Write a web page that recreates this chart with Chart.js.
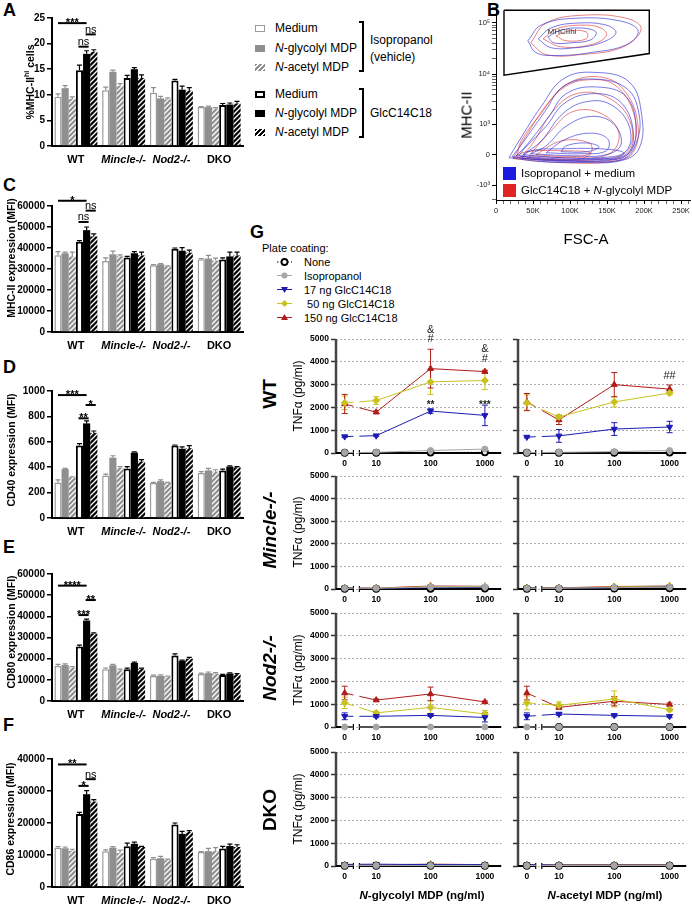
<!DOCTYPE html>
<html>
<head>
<meta charset="utf-8">
<script src="https://cdn.jsdelivr.net/npm/chart.js"></script>
<style>
  body { margin: 0; width: 692px; height: 904px; position: relative; overflow: hidden; background: #fff;
         font-family: 'Liberation Sans', Arial, sans-serif; color: #000; }
  canvas { position: absolute; }
  .t { position: absolute; white-space: nowrap; line-height: 1; }
  .c { transform: translate(-50%, -50%); }
  .lm { transform: translateY(-50%); }
  .r { transform: translate(-50%, -50%) rotate(-90deg); }
  .L { font-size: 18px; font-weight: bold; }
  .yt { font-size: 10.5px; font-weight: bold; }
  .lg { font-size: 12px; }
  .sw { position: absolute; left: 255px; width: 10px; height: 7px; box-sizing: border-box; }
  .br { position: absolute; left: 359px; width: 5px; border: 2px solid #000; border-left: none; box-sizing: border-box; }
  .row { font-size: 19px; font-weight: bold; }
  .tnf { font-size: 12px; }
  .gl { font-size: 11px; }
</style>
</head>
<body>

<!-- panel letters -->
<div class="t L" style="left:3px;top:1px">A</div>
<div class="t L" style="left:487px;top:1px">B</div>
<div class="t L" style="left:3px;top:176px">C</div>
<div class="t L" style="left:3px;top:358px">D</div>
<div class="t L" style="left:3px;top:538px">E</div>
<div class="t L" style="left:3px;top:716px">F</div>
<div class="t L" style="left:250px;top:223px">G</div>

<!-- bar panels -->
<canvas id="cA" width="245" height="163" style="left:0;top:3px"></canvas>
<canvas id="cC" width="245" height="161" style="left:0;top:191px"></canvas>
<canvas id="cD" width="245" height="162" style="left:0;top:376px"></canvas>
<canvas id="cE" width="245" height="162" style="left:0;top:559px"></canvas>
<canvas id="cF" width="245" height="163" style="left:0;top:744px"></canvas>

<div class="t yt r" style="left:29px;top:82px">%MHC-II<sup style="font-size:7px">hi</sup> cells</div>
<div class="t yt r" style="left:11px;top:258px">MHC-II expression (MFI)</div>
<div class="t yt r" style="left:11px;top:450px">CD40 expression (MFI)</div>
<div class="t yt r" style="left:11px;top:632px">CD80 expression (MFI)</div>
<div class="t yt r" style="left:10px;top:819px">CD86 expression (MFI)</div>

<!-- bar legend -->
<div class="sw" style="top:24.5px;border:1.5px solid #9b9b9b;background:#fff"></div>
<div class="sw" style="top:44.5px;background:#8f8f8f"></div>
<div class="sw" style="top:63.5px;background:repeating-linear-gradient(135deg,#8f8f8f 0 2px,#fff 2px 3.5px)"></div>
<div class="sw" style="top:90.5px;border:2px solid #000;background:#fff"></div>
<div class="sw" style="top:109.5px;background:#000"></div>
<div class="sw" style="top:128.5px;background:repeating-linear-gradient(135deg,#000 0 2px,#fff 2px 3.5px)"></div>
<div class="t lg lm" style="left:275px;top:28px">Medium</div>
<div class="t lg lm" style="left:275px;top:48px"><i>N</i>-glycolyl MDP</div>
<div class="t lg lm" style="left:275px;top:67px"><i>N</i>-acetyl MDP</div>
<div class="t lg lm" style="left:275px;top:94px">Medium</div>
<div class="t lg lm" style="left:275px;top:113px"><i>N</i>-glycolyl MDP</div>
<div class="t lg lm" style="left:275px;top:132px"><i>N</i>-acetyl MDP</div>
<div class="br" style="top:21px;height:51px"></div>
<div class="br" style="top:88px;height:50px"></div>
<div class="t lg lm" style="left:370px;top:40px">Isopropanol</div>
<div class="t lg lm" style="left:370px;top:57px">(vehicle)</div>
<div class="t lg lm" style="left:370px;top:113px">GlcC14C18</div>

<!-- panel B -->
<canvas id="cB" width="242" height="250" style="left:450px;top:0"></canvas>
<div class="t r" style="left:466px;top:115px;font-size:15px">MHC-II</div>
<div class="t c" style="left:586px;top:238px;font-size:15px">FSC-A</div>
<div class="t c" style="left:562px;top:32px;font-size:8px;color:#333">MHCIIhi</div>
<div style="position:absolute;left:503px;top:167px;width:13px;height:13px;background:#1c1ce0"></div>
<div style="position:absolute;left:503px;top:184px;width:13px;height:13px;background:#e02424"></div>
<div class="t lm" style="left:521px;top:173.5px;font-size:11.5px">Isopropanol + medium</div>
<div class="t lm" style="left:521px;top:190.5px;font-size:11.5px">GlcC14C18 + <i>N</i>-glycolyl MDP</div>

<!-- panel G legend -->
<div class="t gl lm" style="left:262px;top:248px">Plate coating:</div>
<svg style="position:absolute;left:270px;top:255px" width="30" height="70">
  <line x1="7" y1="7" x2="22" y2="7" stroke="#000" stroke-width="1" stroke-dasharray="1.5 2"/>
  <circle cx="14.5" cy="7" r="3" fill="#fff" stroke="#000" stroke-width="1.8"/>
  <line x1="7" y1="20.5" x2="22" y2="20.5" stroke="#a6a6a6" stroke-width="1"/>
  <circle cx="14.5" cy="20.5" r="3" fill="#a6a6a6"/>
  <line x1="7" y1="34.5" x2="22" y2="34.5" stroke="#1c1cb4" stroke-width="1"/>
  <polygon points="11,32 18,32 14.5,38" fill="#1c1cb4"/>
  <line x1="7" y1="48.5" x2="22" y2="48.5" stroke="#c9c21e" stroke-width="1"/>
  <polygon points="14.5,45 18,48.5 14.5,52 11,48.5" fill="#c9c21e"/>
  <line x1="7" y1="62.5" x2="22" y2="62.5" stroke="#b01c1c" stroke-width="1"/>
  <polygon points="11,65 18,65 14.5,59" fill="#b01c1c"/>
</svg>
<div class="t gl lm" style="left:304px;top:262px">None</div>
<div class="t gl lm" style="left:304px;top:275.5px">Isopropanol</div>
<div class="t gl lm" style="left:304px;top:289.5px">17 ng GlcC14C18</div>
<div class="t gl lm" style="left:304px;top:303.5px">&nbsp;50 ng GlcC14C18</div>
<div class="t gl lm" style="left:304px;top:317.5px">150 ng GlcC14C18</div>

<!-- panel G charts -->
<canvas id="g1a" width="211" height="154" style="left:296px;top:317px"></canvas>
<canvas id="g1b" width="184" height="154" style="left:508px;top:317px"></canvas>
<canvas id="g2a" width="211" height="153" style="left:296px;top:454px"></canvas>
<canvas id="g2b" width="184" height="153" style="left:508px;top:454px"></canvas>
<canvas id="g3a" width="211" height="154" style="left:296px;top:591px"></canvas>
<canvas id="g3b" width="184" height="154" style="left:508px;top:591px"></canvas>
<canvas id="g4a" width="211" height="154" style="left:296px;top:730px"></canvas>
<canvas id="g4b" width="184" height="154" style="left:508px;top:730px"></canvas>

<div class="t row r" style="left:269px;top:394px">WT</div>
<div class="t row r" style="left:269px;top:530px"><i>Mincle-/-</i></div>
<div class="t row r" style="left:269px;top:668px"><i>Nod2-/-</i></div>
<div class="t row r" style="left:269px;top:810px">DKO</div>
<div class="t tnf r" style="left:298px;top:396px">TNFα (pg/ml)</div>
<div class="t tnf r" style="left:298px;top:532px">TNFα (pg/ml)</div>
<div class="t tnf r" style="left:298px;top:670px">TNFα (pg/ml)</div>
<div class="t tnf r" style="left:298px;top:809px">TNFα (pg/ml)</div>
<div class="t c" style="left:422px;top:896px;font-size:11.5px;font-weight:bold"><i>N</i>-glycolyl MDP (ng/ml)</div>
<div class="t c" style="left:605px;top:896px;font-size:11.5px;font-weight:bold"><i>N</i>-acetyl MDP (ng/ml)</div>

<script>
var FONT = "'Liberation Sans', Arial, sans-serif";
Chart.defaults.font.family = FONT;
Chart.defaults.color = '#000';

// ---------- data: bar panels A, C-F ----------
var groups = ['WT', 'Mincle-/-', 'Nod2-/-', 'DKO'];
var treatments = ['Medium', 'N-glycolyl MDP', 'N-acetyl MDP', 'Medium', 'N-glycolyl MDP', 'N-acetyl MDP'];

// one row per genotype, columns in legend order (isopropanol x3, GlcC14C18 x3)
var mhcPct = [[9.6, 11.3, 9.2, 14.8, 18.0, 18.4], [10.9, 14.5, 11.7, 13.3, 15.0, 13.3], [10.4, 9.3, 9.1, 12.8, 11.0, 10.8], [7.6, 7.6, 7.3, 8.0, 8.1, 8.3]];
var mhcPctErr = [[0.6, 0.5, 0.4, 1.0, 0.6, 0.4], [0.6, 0.3, 0.5, 0.5, 0.3, 0.6], [1.0, 0.4, 0.3, 0.2, 0.7, 0.6], [0.1, 0.2, 0.2, 0.3, 0.3, 0.4]];
var mhcMfi = [[36500, 37500, 36000, 43000, 48500, 45500], [33800, 37000, 36000, 35500, 37500, 36500], [31800, 32300, 31200, 39700, 38700, 37800], [34700, 35000, 34000, 34500, 36000, 36500]];
var mhcMfiErr = [[1800, 500, 2000, 500, 1500, 1200], [1500, 1500, 700, 500, 800, 1500], [300, 300, 300, 300, 1500, 1200], [300, 1500, 1200, 800, 2000, 1500]];
var cd40 = [[280, 385, 320, 570, 745, 670], [335, 475, 395, 390, 515, 445], [275, 290, 275, 570, 545, 550], [355, 375, 365, 375, 405, 400]];
var cd40Err = [[20, 5, 5, 15, 20, 15], [10, 15, 10, 15, 5, 15], [5, 10, 5, 5, 15, 20], [10, 15, 15, 10, 5, 5]];
var cd80 = [[16500, 17000, 15800, 25700, 38000, 31800], [15000, 16900, 14500, 15000, 18000, 15200], [11800, 12000, 11500, 21500, 19000, 20000], [12800, 13200, 12900, 12300, 13000, 12700]];
var cd80Err = [[800, 500, 500, 700, 700, 400], [600, 400, 600, 500, 400, 300], [400, 400, 300, 800, 300, 600], [400, 500, 500, 300, 300, 300]];
var cd86 = [[12300, 12100, 11300, 22800, 29000, 26700], [11200, 12300, 10600, 12700, 13500, 12500], [8800, 9000, 8400, 19500, 16600, 17200], [10900, 11200, 11300, 12000, 12800, 12500]];
var cd86Err = [[300, 400, 500, 500, 1100, 600], [400, 300, 900, 1000, 500, 200], [400, 600, 300, 500, 800, 400], [200, 900, 1000, 700, 600, 700]];

// significance marks on the WT group: [from bar, to bar, height, label]
var sigA = [[0, 4, 24, '***'], [3, 4, 19.4, 'ns'], [4, 5, 21.8, 'ns']];
var sigC = [[0, 4, 62500, '*'], [3, 4, 52400, 'ns'], [4, 5, 57800, 'ns']];
var sigD = [[0, 4, 968, '***'], [3, 4, 785, '**'], [4, 5, 890, '*']];
var sigE = [[0, 4, 54500, '****'], [3, 4, 40600, '***'], [4, 5, 47700, '**']];
var sigF = [[0, 4, 38300, '**'], [3, 4, 31600, '*'], [4, 5, 33700, 'ns']];

// ---------- data: panel B (FSC-A in K, MHC-II in raw units) ----------
var bGate = [[10.8, 174000], [207, 174000], [207, 25200], [10.8, 9570]];
var bBlueRings = [
  [[17.6, -72], [61, -172], [115, -196], [169, -146], [193, 146], [197, 1470], [180, 7060], [131, 10900], [90.5, 8040], [61, 2330], [31, 359]],
  [[21.6, -48], [67.6, -146], [122, -172], [172.5, -97], [190.5, 359], [193, 1690], [177, 5210], [134, 8040], [92, 5940], [66, 1850], [35, 275]],
  [[27, -24], [74, -121], [128, -121], [176, -24], [189, 695], [176, 3630], [135, 5660], [94.6, 4160], [71.6, 1470], [40.5, 223]],
  [[31, -24], [81, -97], [135, -97], [177, 24], [185, 780], [166, 3050], [128, 4160], [92, 2680], [67.6, 900], [38, 146]],
  [[36.5, 0], [88, -72], [142, -72], [176, 97], [180, 900], [155, 2550], [122, 2910], [90.5, 1690], [61, 359]],
  [[47, 24], [101, -24], [149, 0], [169, 275], [158, 1050], [128, 1470], [94.6, 900], [67.6, 223]],
  [[34, -97], [88, -146], [155, -121], [172.5, 48], [142, 146], [88, 146], [47, 97]],
  [[67.6, 48], [115, 24], [149, 97], [151, 418], [128, 615], [94.6, 418]],
  [[88, 72], [122, 72], [139, 196], [122, 302], [94.6, 223]],
  [[43, 44600], [61, 89700], [108, 122000], [169, 107000], [192, 69000], [176, 37400], [128, 26300], [81, 23100], [54, 26300]],
  [[57, 48600], [74, 78700], [108, 98000], [149, 89700], [162, 63300], [142, 40800], [108, 32800], [74, 32800]],
  [[70, 53100], [88, 72000], [115, 78700], [135, 66000], [128, 46500], [101, 40800], [78, 40800]]
];
var bRedRings = [
  [[23, -97], [88, -196], [155, -172], [185, 48], [191, 1160], [172, 5080], [142, 8790], [101, 7060], [71.6, 2910], [40.5, 513]],
  [[28, -72], [88, -146], [153, -146], [182, 97], [188, 1280], [162, 5940], [122, 7750], [88, 5080], [61, 1690], [34, 359]],
  [[34, -48], [88, -121], [149, -97], [180, 146], [180, 1280], [149, 3630], [108, 4160], [76.5, 1850], [50, 302]],
  [[44.6, -24], [101, -72], [153, 24], [166, 615], [142, 1690], [104, 1850], [74, 695]],
  [[23, -72], [67.6, -121], [115, -97], [128, 48], [88, 97], [40.5, 72]],
  [[54, 0], [101, -48], [128, 48], [126, 302], [88, 359]],
  [[47, 40800], [67.6, 98000], [115, 139000], [176, 122000], [196, 76000], [172, 34000], [115, 24100], [67.6, 24100]],
  [[63.5, 48600], [81, 75000], [115, 89700], [142, 78700], [149, 55500], [128, 37400], [88, 34000]],
  [[81, 55500], [98, 69000], [122, 66000], [122, 48600], [94.6, 44600]]
];
var bMajorY = [-1000, 0, 1000, 10000, 100000];
var bMajorLabels = ['-10³', '0', '10³', '10⁴', '10⁵'];

// ---------- data: panel G (TNFa pg/ml) ----------
var doses = [0, 10, 100, 1000];
var doseLabels = ['0', '10', '100', '1000'];
var coatings = ['None', 'Isopropanol', '17 ng GlcC14C18', ' 50 ng GlcC14C18', '150 ng GlcC14C18'];

// rows: None, Isopropanol, 17 ng, 50 ng, 150 ng
var wtGly = [[10, 10, 20, 30], [20, 30, 110, 170], [720, 760, 1840, 1650], [2200, 2300, 3120, 3180], [2150, 1790, 3700, 3570]];
var wtGlyErr = [[10, 10, 10, 10], [10, 10, 30, 40], [40, 40, 100, 450], [300, 170, 550, 400], [420, 60, 850, 60]];
var wtAce = [[10, 10, 10, 20], [20, 30, 60, 110], [700, 750, 1050, 1140], [2200, 1580, 2240, 2630], [2240, 1450, 3000, 2800]];
var wtAceErr = [[10, 10, 10, 10], [10, 10, 20, 30], [40, 280, 280, 250], [350, 80, 220, 80], [370, 200, 530, 180]];
var minGly = [[10, 10, 10, 20], [30, 30, 90, 90], [40, 20, 50, 70], [40, 30, 100, 110], [50, 40, 130, 120]];
var minGlyErr = [[10, 10, 10, 10], [20, 20, 100, 60], [20, 20, 20, 30], [20, 20, 40, 40], [20, 20, 50, 40]];
var minAce = [[10, 10, 20, 30], [30, 30, 60, 80], [40, 30, 60, 90], [50, 40, 90, 120], [60, 50, 110, 130]];
var minAceErr = [[10, 10, 10, 10], [20, 20, 30, 30], [20, 20, 30, 30], [20, 20, 30, 40], [20, 20, 30, 40]];
var nodGly = [[null, null, null, null], [0, 0, 0, 0], [470, 470, 510, 420], [1060, 620, 860, 570], [1490, 1180, 1450, 1100]];
var nodGlyErr = [[0, 0, 0, 0], [20, 20, 20, 20], [150, 60, 50, 200], [250, 60, 300, 150], [300, 50, 300, 40]];
var nodAce = [[null, 0, 0, 0], [0, 0, 0, 0], [470, 570, 510, 470], [1060, 950, 1230, 760], [1490, 860, 1130, 990]];
var nodAceErr = [[0, 0, 0, 0], [20, 20, 20, 20], [150, 60, 60, 60], [300, 150, 350, 60], [300, 60, 200, 60]];
var dkoGly = [[10, 10, 10, 10], [20, 20, 20, 20], [70, 80, 60, 60], [40, 50, 70, 50], [50, 50, 80, 60]];
var dkoGlyErr = [[10, 10, 10, 10], [10, 10, 10, 10], [20, 20, 20, 20], [20, 20, 20, 20], [20, 20, 20, 20]];
var dkoAce = [[10, 10, 10, 10], [20, 20, 20, 20], [60, 40, 40, 40], [40, 40, 50, 50], [50, 50, 60, 60]];
var dkoAceErr = [[10, 10, 10, 10], [10, 10, 10, 10], [20, 20, 20, 20], [20, 20, 20, 20], [20, 20, 20, 20]];

// text marks: [dose index, height, label]
var notesWtGly = [[2, 5250, '&'], [2, 4870, '#'], [2, 2150, '**'], [3, 4430, '&'], [3, 3990, '#'], [3, 2150, '***']];
var notesWtAce = [[3, 3250, '##']];


// ---------- bar charts ----------
function hatch(base) {
  var c = document.createElement('canvas');
  c.width = 5; c.height = 5;
  var x = c.getContext('2d');
  x.fillStyle = base; x.fillRect(0, 0, 5, 5);
  x.strokeStyle = '#fff'; x.lineWidth = 1.3;
  x.beginPath();
  x.moveTo(-1, 6); x.lineTo(6, -1);
  x.moveTo(-1, 1); x.lineTo(1, -1);
  x.moveTo(4, 6); x.lineTo(6, 4);
  x.stroke();
  return x.createPattern(c, 'repeat');
}

var barFill = ['#fff', '#8f8f8f', hatch('#8f8f8f'), '#fff', '#000', hatch('#000')];
var barLine = ['#9b9b9b', '#8f8f8f', '#8f8f8f', '#000', '#000', '#000'];
var barBorder = [1.5, 0, 0, 2, 0, 0];

var barErr = {
  id: 'barErr',
  afterDatasetsDraw: function (chart) {
    var ctx = chart.ctx, ys = chart.scales.y;
    chart.data.datasets.forEach(function (ds, i) {
      var meta = chart.getDatasetMeta(i);
      ctx.save();
      ctx.strokeStyle = i < 3 ? '#8f8f8f' : '#000';
      ctx.lineWidth = 1.2;
      meta.data.forEach(function (bar, j) {
        var top = ys.getPixelForValue(ds.data[j] + ds.err[j]);
        ctx.beginPath();
        ctx.moveTo(bar.x, bar.y); ctx.lineTo(bar.x, top);
        ctx.moveTo(bar.x - 2.5, top); ctx.lineTo(bar.x + 2.5, top);
        ctx.stroke();
      });
      ctx.restore();
    });
  }
};

var sigMarks = {
  id: 'sig',
  afterDraw: function (chart, args, opts) {
    var ctx = chart.ctx, ys = chart.scales.y;
    (opts.items || []).forEach(function (s) {
      var x1 = chart.getDatasetMeta(s[0]).data[0].x;
      var x2 = chart.getDatasetMeta(s[1]).data[0].x;
      if (s[0] > 0) { x1 -= 1; x2 += 2; }
      var y = ys.getPixelForValue(s[2]);
      ctx.save();
      ctx.strokeStyle = '#000'; ctx.lineWidth = 2;
      ctx.beginPath(); ctx.moveTo(x1, y); ctx.lineTo(x2, y); ctx.stroke();
      ctx.fillStyle = '#000'; ctx.textAlign = 'center';
      if (s[3] === 'ns') {
        ctx.font = '11px ' + FONT;
        ctx.fillText(s[3], (x1 + x2) / 2, y - 1.5);
      } else {
        ctx.font = 'bold 11px ' + FONT;
        ctx.fillText(s[3], (x1 + x2) / 2, y + 3);
      }
      ctx.restore();
    });
  }
};

function plainNumber(v) { return String(v); }

function barChart(id, means, errs, ymax, ystep, sig) {
  var datasets = treatments.map(function (t, k) {
    return {
      label: t,
      data: means.map(function (g) { return g[k]; }),
      err: errs.map(function (g) { return g[k]; }),
      backgroundColor: barFill[k],
      borderColor: barLine[k],
      borderWidth: barBorder[k],
      categoryPercentage: 0.9,
      barPercentage: 1.0
    };
  });
  return new Chart(document.getElementById(id), {
    type: 'bar',
    data: { labels: groups, datasets: datasets },
    options: {
      responsive: false,
      animation: false,
      layout: { padding: { top: 15, right: 2, left: 0, bottom: 0 } },
      plugins: { legend: { display: false }, tooltip: { enabled: false }, sig: { items: sig } },
      scales: {
        x: {
          grid: { display: false, drawTicks: false },
          border: { color: '#000', width: 2 },
          ticks: {
            padding: 7, color: '#000', maxRotation: 0, minRotation: 0, autoSkip: false,
            font: function (c) {
              return { family: FONT, size: 11, weight: 'bold', style: (c.index === 1 || c.index === 2) ? 'italic' : 'normal' };
            }
          },
          afterFit: function (s) { s.height = 20; }
        },
        y: {
          min: 0, max: ymax,
          ticks: { stepSize: ystep, padding: 2, color: '#000', font: { family: FONT, size: 10, weight: 'bold' }, callback: plainNumber },
          grid: { drawOnChartArea: false, tickLength: 5, color: '#000', lineWidth: 1.5 },
          border: { color: '#000', width: 2 },
          afterFit: function (s) { s.width = 52; }
        }
      }
    },
    plugins: [barErr, sigMarks]
  });
}

barChart('cA', mhcPct, mhcPctErr, 25, 5, sigA);
barChart('cC', mhcMfi, mhcMfiErr, 60000, 10000, sigC);
barChart('cD', cd40, cd40Err, 1000, 200, sigD);
barChart('cE', cd80, cd80Err, 60000, 10000, sigE);
barChart('cF', cd86, cd86Err, 40000, 10000, sigF);


// ---------- panel B ----------
var bWidth = 550;   // linear region of the biexponential MHC-II axis
function biex(v) { return Math.asinh(v / bWidth); }

function ringPoints(r) {
  var pts = r.map(function (p) { return { x: p[0], y: biex(p[1]) }; });
  pts.push(pts[0]);
  return pts;
}

var bSets = [];
bSets.push({ data: ringPoints(bGate), borderColor: '#000', borderWidth: 1.4, tension: 0 });
bBlueRings.forEach(function (r) {
  bSets.push({ data: ringPoints(r), borderColor: 'rgba(45,45,215,0.8)', borderWidth: 0.8, tension: 0.4 });
});
bRedRings.forEach(function (r) {
  bSets.push({ data: ringPoints(r), borderColor: 'rgba(220,60,60,0.8)', borderWidth: 0.8, tension: 0.4 });
});
bSets.forEach(function (d) { d.showLine = true; d.pointRadius = 0; d.fill = false; });

var bYTicks = bMajorY.slice();
[-2000, 2000, 3000, 4000, 5000, 6000, 7000, 8000, 9000,
 20000, 30000, 40000, 50000, 60000, 70000, 80000, 90000, 200000].forEach(function (v) { bYTicks.push(v); });

new Chart(document.getElementById('cB'), {
  type: 'scatter',
  data: { datasets: bSets },
  options: {
    responsive: false,
    animation: false,
    layout: { padding: { top: 3, right: 2 } },
    plugins: { legend: { display: false }, tooltip: { enabled: false } },
    scales: {
      x: {
        type: 'linear', min: 0, max: 262,
        afterBuildTicks: function (s) {
          var t = [];
          for (var v = 0; v <= 260; v += 10) t.push({ value: v });
          s.ticks = t;
        },
        ticks: {
          autoSkip: false, maxRotation: 0, padding: 2, color: '#222', font: { size: 7.5 },
          callback: function (v) { return v % 50 === 0 ? (v === 0 ? '0' : v + 'K') : ''; }
        },
        grid: { drawOnChartArea: false, tickLength: 4, color: '#000',
                lineWidth: function (c) { return c.tick && c.tick.value % 50 === 0 ? 1 : 0.6; } },
        border: { color: '#000', width: 1 },
        afterFit: function (s) { s.height = 50; }
      },
      y: {
        type: 'linear', min: biex(-2040), max: biex(206000),
        afterBuildTicks: function (s) {
          s.ticks = bYTicks.map(function (v) { return { value: biex(v) }; });
        },
        ticks: {
          autoSkip: false, padding: 2, color: '#222', font: { size: 7.5 },
          callback: function (v, i) { return i < bMajorLabels.length ? bMajorLabels[i] : ''; }
        },
        grid: { drawOnChartArea: false, tickLength: 4, color: '#000',
                lineWidth: function (c) { return c.index < 5 ? 1 : 0.6; } },
        border: { color: '#000', width: 1 },
        afterFit: function (s) { s.width = 46; }
      }
    }
  }
});


// ---------- panel G ----------
var zeroPos = 0.42;                    // where the "0" dose sits on the log axis
var breakFrom = 0.58, breakTo = 0.69;  // axis break between 0 and 10
function dosePos(d) { return d === 0 ? zeroPos : Math.log10(d); }

var gColor = ['#000', '#a6a6a6', '#1c1cb4', '#c9c21e', '#b01c1c'];
var gPoint = ['circle', 'circle', 'triangle', 'rectRot', 'triangle'];
var gRot = [0, 0, 180, 0, 0];
var gFill = ['#fff', '#a6a6a6', '#1c1cb4', '#c9c21e', '#b01c1c'];
var gDrawOrder = [1, 0, 2, 3, 4];

var gAxis = {
  id: 'gAxis',
  beforeDatasetsDraw: function (chart) {
    var ctx = chart.ctx, a = chart.chartArea, xs = chart.scales.x, ys = chart.scales.y;
    var b1 = xs.getPixelForValue(breakFrom), b2 = xs.getPixelForValue(breakTo);
    ctx.save();
    // y axis
    ctx.strokeStyle = '#444'; ctx.lineWidth = 2.5;
    ctx.beginPath(); ctx.moveTo(a.left, a.top); ctx.lineTo(a.left, a.bottom); ctx.stroke();
    // x axis with a break
    ctx.strokeStyle = '#000'; ctx.lineWidth = 2;
    ctx.beginPath();
    ctx.moveTo(a.left, a.bottom); ctx.lineTo(b1, a.bottom);
    ctx.moveTo(b2, a.bottom); ctx.lineTo(a.right, a.bottom);
    ctx.stroke();
    ctx.lineWidth = 1.2;
    ctx.beginPath();
    ctx.moveTo(b1, a.bottom - 3); ctx.lineTo(b1, a.bottom + 3);
    ctx.moveTo(b2, a.bottom - 3); ctx.lineTo(b2, a.bottom + 3);
    ctx.stroke();
    ctx.restore();
    // everything else stays out of the break
    ctx.save();
    ctx.beginPath();
    ctx.rect(0, 0, b1, chart.height);
    ctx.rect(b2, 0, chart.width - b2, chart.height);
    ctx.clip();
    chart.data.datasets.forEach(function (ds, i) {
      var meta = chart.getDatasetMeta(i);
      ctx.strokeStyle = ds.borderColor; ctx.lineWidth = 1;
      meta.data.forEach(function (pt, j) {
        var m = ds.data[j].y;
        if (m === null) return;
        var hi = ys.getPixelForValue(m + ds.err[j]);
        var lo = ys.getPixelForValue(Math.max(0, m - ds.err[j]));
        ctx.beginPath();
        ctx.moveTo(pt.x, lo); ctx.lineTo(pt.x, hi);
        ctx.moveTo(pt.x - 3, hi); ctx.lineTo(pt.x + 3, hi);
        ctx.moveTo(pt.x - 3, lo); ctx.lineTo(pt.x + 3, lo);
        ctx.stroke();
      });
    });
  },
  afterDatasetsDraw: function (chart) {
    chart.ctx.restore();
  },
  afterDraw: function (chart, args, opts) {
    var ctx = chart.ctx, xs = chart.scales.x, ys = chart.scales.y;
    (opts.items || []).forEach(function (n) {
      var x = xs.getPixelForValue(dosePos(doses[n[0]]));
      var y = ys.getPixelForValue(n[1]);
      ctx.save();
      ctx.fillStyle = '#222'; ctx.textAlign = 'center';
      if (n[2].charAt(0) === '*') {
        ctx.font = 'bold 10px ' + FONT;
        ctx.fillText(n[2], x, y + 4);
      } else {
        ctx.font = '11px ' + FONT;
        ctx.fillText(n[2], x, y);
      }
      ctx.restore();
    });
  }
};

function tnfChart(id, mean, err, leftCol, notes) {
  var datasets = gDrawOrder.map(function (k) {
    return {
      label: coatings[k],
      data: doses.map(function (d, j) { return { x: dosePos(d), y: mean[k][j] }; }),
      err: err[k],
      borderColor: gColor[k],
      backgroundColor: gFill[k],
      pointBackgroundColor: gFill[k],
      pointBorderColor: gColor[k],
      pointBorderWidth: k === 0 ? 1.8 : 1,
      pointStyle: gPoint[k],
      rotation: gRot[k],
      pointRadius: k < 2 ? 3 : 3.5,
      borderWidth: 1,
      borderDash: k === 0 ? [1.5, 2] : [],
      tension: 0,
      clip: false
    };
  });
  return new Chart(document.getElementById(id), {
    type: 'line',
    data: { datasets: datasets },
    options: {
      responsive: false,
      animation: false,
      layout: { padding: { top: 22, right: 2 } },
      plugins: { legend: { display: false }, tooltip: { enabled: false }, gAxis: { items: notes || [] } },
      scales: {
        x: {
          type: 'linear', min: 0.26, max: 3.3,
          afterBuildTicks: function (s) {
            s.ticks = doses.map(function (d) { return { value: dosePos(d) }; });
          },
          ticks: {
            autoSkip: false, maxRotation: 0, padding: 6, color: '#000',
            font: { size: 8.5, weight: 'bold' },
            callback: function (v, i) { return doseLabels[i]; }
          },
          grid: { display: false, drawTicks: false },
          border: { display: false },
          afterFit: function (s) { s.height = 18; }
        },
        y: {
          min: 0, max: 5000,
          ticks: { stepSize: 1000, display: leftCol, padding: 2, color: '#000', font: { size: 8.5, weight: 'bold' }, callback: plainNumber },
          grid: { color: '#9a9a9a', lineWidth: 0.8, tickColor: '#333', tickLength: 5, tickWidth: 1.5 },
          border: { display: false, dash: [2, 2] },
          afterFit: function (s) { s.width = leftCol ? 40 : 10; }
        }
      }
    },
    plugins: [gAxis]
  });
}

tnfChart('g1a', wtGly, wtGlyErr, true, notesWtGly);
tnfChart('g1b', wtAce, wtAceErr, false, notesWtAce);
tnfChart('g2a', minGly, minGlyErr, true);
tnfChart('g2b', minAce, minAceErr, false);
tnfChart('g3a', nodGly, nodGlyErr, true);
tnfChart('g3b', nodAce, nodAceErr, false);
tnfChart('g4a', dkoGly, dkoGlyErr, true);
tnfChart('g4b', dkoAce, dkoAceErr, false);
</script>
</body>
</html>
